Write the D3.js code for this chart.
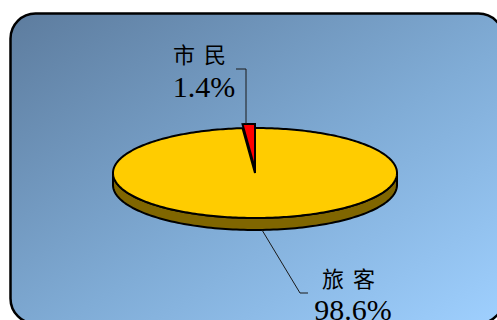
<!DOCTYPE html>
<html>
<head>
<meta charset="utf-8">
<script src="https://cdn.jsdelivr.net/npm/d3@7"></script>
<style>
  html, body { margin: 0; padding: 0; background: #ffffff; }
  svg { display: block; }
</style>
</head>
<body>
<svg id="chart" width="497" height="320"></svg>
<script>
// Visitor composition
const categories = ["市民", "旅客"];
const values = [1.4, 98.6];
const valueLabels = ["1.4%", "98.6%"];
const topColors = ["#ff0000", "#ffcc00"];
const sideColors = ["#990000", "#806600"];

const svg = d3.select("#chart");
const W = 497, H = 320;

// Background panel with diagonal gradient
const defs = svg.append("defs");
const grad = defs.append("linearGradient")
  .attr("id", "bg").attr("x1", "0%").attr("y1", "0%").attr("x2", "100%").attr("y2", "100%");
grad.append("stop").attr("offset", "0%").attr("stop-color", "#5d7c9e");
grad.append("stop").attr("offset", "55%").attr("stop-color", "#80acd6");
grad.append("stop").attr("offset", "100%").attr("stop-color", "#9fd0ff");

svg.append("rect")
  .attr("x", 10.5).attr("y", 13.5).attr("width", 493).attr("height", 310)
  .attr("rx", 25).attr("ry", 25)
  .attr("fill", "url(#bg)").attr("stroke", "#000").attr("stroke-width", 2.5);

// 3D pie geometry
const cx = 255, cy = 173, rx = 142, ry = 45, depth = 12;
const pie = d3.pie().sort(null)
  .startAngle(-2 * Math.PI * values[0] / 100)
  .endAngle(2 * Math.PI - 2 * Math.PI * values[0] / 100);
const arcs = pie(values);

const px = a => cx + rx * Math.sin(a);
const py = a => cy - ry * Math.cos(a);
const line = d3.line();

// Side wall of the front half (visible part)
const big = arcs[1];
const a0 = Math.max(big.startAngle, Math.PI / 2);
const a1 = Math.min(big.endAngle, 3 * Math.PI / 2);
const steps = d3.range(0, 121).map(i => a0 + (a1 - a0) * i / 120);
const sidePts = steps.map(a => [px(a), py(a)])
  .concat(steps.slice().reverse().map(a => [px(a), py(a) + depth]));
svg.append("path")
  .attr("d", line(sidePts) + "Z")
  .attr("fill", sideColors[1]).attr("stroke", "#000").attr("stroke-width", 2)
  .attr("stroke-linejoin", "round");

// Top faces of the slices
arcs.forEach((d, i) => {
  const n = Math.max(4, Math.ceil((d.endAngle - d.startAngle) / 0.02));
  const pts = d3.range(0, n + 1).map(k => {
    const a = d.startAngle + (d.endAngle - d.startAngle) * k / n;
    return [px(a), py(a)];
  });
  const lift = i === 0 ? -4 : 0;
  const all = [[cx, cy]].concat(pts);
  svg.append("path")
    .attr("d", line(all) + "Z")
    .attr("transform", `translate(0,${lift})`)
    .attr("fill", topColors[i]).attr("stroke", "#000").attr("stroke-width", 2)
    .attr("stroke-linejoin", "miter");
});

// Leader lines
const leaders = [
  [[246, 124], [246, 69], [236, 69]],
  [[262, 230], [300, 293], [308, 293]]
];
leaders.forEach(l => {
  svg.append("path").attr("d", line(l))
    .attr("fill", "none").attr("stroke", "#1a1a1a").attr("stroke-width", 1);
});

// Labels
const labelPos = [
  { x: 204, catY: 63, valY: 97 },
  { x: 353, catY: 287, valY: 320 }
];
categories.forEach((c, i) => {
  svg.append("text")
    .attr("x", labelPos[i].x).attr("y", labelPos[i].catY)
    .attr("text-anchor", "middle")
    .attr("font-family", "'Noto Sans CJK SC', sans-serif")
    .attr("font-size", 22).attr("letter-spacing", 9)
    .attr("fill", "#000")
    .text(c);
  svg.append("text")
    .attr("x", labelPos[i].x).attr("y", labelPos[i].valY)
    .attr("text-anchor", "middle")
    .attr("font-family", "'Liberation Serif', serif")
    .attr("font-size", 30)
    .attr("fill", "#000")
    .text(valueLabels[i]);
});
</script>
</body>
</html>
